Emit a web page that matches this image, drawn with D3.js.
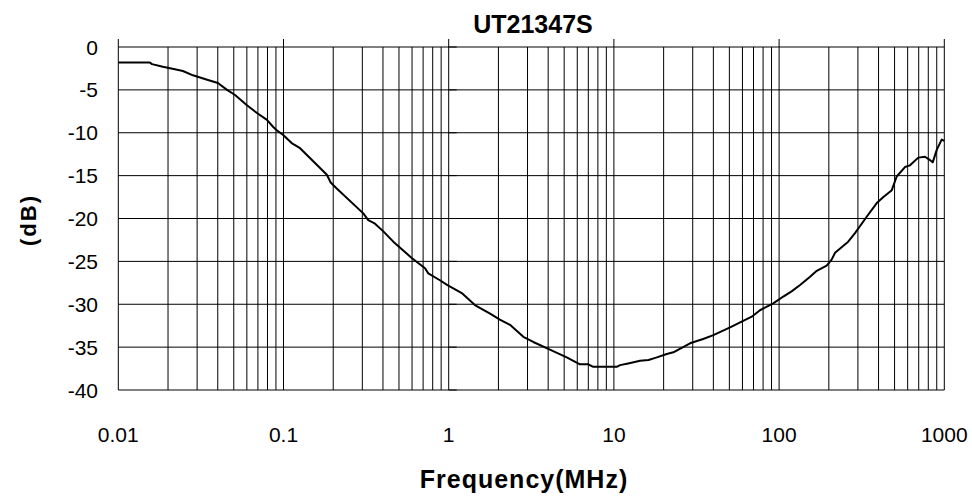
<!DOCTYPE html>
<html>
<head>
<meta charset="utf-8">
<script src="https://cdn.jsdelivr.net/npm/d3@7"></script>
<style>
  html, body { margin: 0; padding: 0; background: #fff; }
  svg { display: block; font-family: "Liberation Sans", Arial, sans-serif; }
</style>
</head>
<body>
<div id="chart"></div>
<script>
// insertion loss curve
const freqMHz = [0.01, 0.0155, 0.016, 0.0186, 0.022, 0.0246, 0.0283, 0.0349, 0.0401, 0.0455,
  0.0509, 0.0601, 0.0691, 0.0794, 0.0864, 0.091, 0.1, 0.112, 0.126, 0.183, 0.193, 0.21,
  0.304, 0.326, 0.358, 0.402, 0.462, 0.597, 0.719, 0.752, 0.885, 0.977, 1.2, 1.44, 1.78,
  2.04, 2.35, 2.83, 3.25, 4.1, 5.18, 6.23, 7.0, 7.5, 10.4, 10.9, 12.2, 14.4, 16.2, 18.2,
  20.9, 22.9, 28.9, 34.7, 40, 50.5, 68.3, 76.6, 92.2, 106, 119, 134, 154, 169, 194, 208,
  218, 262, 288, 339, 390, 428, 481, 515, 578, 620, 696, 764, 820, 851, 900, 964, 1000];
const attenDb = [-1.8, -1.8, -2.0, -2.3, -2.6, -2.8, -3.3, -3.85, -4.2, -5.0,
  -5.6, -6.8, -7.7, -8.5, -9.3, -9.7, -10.3, -11.2, -11.8, -14.9, -15.8, -16.5,
  -19.4, -20.2, -20.6, -21.5, -22.7, -24.6, -25.8, -26.4, -27.2, -27.75, -28.7, -30.1, -31.1,
  -31.8, -32.4, -33.8, -34.4, -35.3, -36.2, -37.0, -37.0, -37.3, -37.3, -37.1, -36.9, -36.6, -36.5, -36.2,
  -35.8, -35.6, -34.55, -34.05, -33.6, -32.7, -31.45, -30.7, -29.9, -29.1, -28.5, -27.75, -26.8, -26.1, -25.5, -24.8,
  -24.0, -22.7, -21.7, -19.8, -18.2, -17.5, -16.7, -15.1, -14.0, -13.8, -12.9, -12.8, -13.2, -13.45, -12.0, -10.8, -10.95];

const decades = [0.01, 0.1, 1, 10, 100, 1000];
const decadeLabels = ['0.01', '0.1', '1', '10', '100', '1000'];
const yTicks = [0, -5, -10, -15, -20, -25, -30, -35, -40];

const title = 'UT21347S';
const xTitle = 'Frequency(MHz)';
const yTitle = '(dB)';

const width = 972;
const height = 497;
const plotLeft = 118.3, plotRight = 944.3, plotTop = 47, plotBottom = 390;

const svg = d3.select('#chart')
  .append('svg')
  .attr('width', width)
  .attr('height', height);

const x = d3.scaleLog().domain([0.01, 1000]).range([plotLeft, plotRight]);
const y = d3.scaleLinear().domain([0, -40]).range([plotTop, plotBottom]);

// minor grid: 1..9 in every decade
const gridX = [];
decades.slice(0, -1).forEach(d => {
  for (let k = 1; k <= 9; k++) gridX.push(d * k);
});
gridX.push(1000);

const grid = svg.append('g').attr('stroke', '#000').attr('stroke-width', 1).attr('fill', 'none');

grid.selectAll('.vgrid')
  .data(gridX)
  .enter().append('line')
  .attr('class', 'vgrid')
  .attr('x1', d => x(d)).attr('x2', d => x(d))
  .attr('y1', plotTop).attr('y2', plotBottom);

grid.selectAll('.hgrid')
  .data(yTicks)
  .enter().append('line')
  .attr('class', 'hgrid')
  .attr('x1', plotLeft).attr('x2', plotRight)
  .attr('y1', d => y(d)).attr('y2', d => y(d));

// decade ticks poking out above the top edge
grid.selectAll('.dtick')
  .data(decades)
  .enter().append('line')
  .attr('class', 'dtick')
  .attr('x1', d => x(d)).attr('x2', d => x(d))
  .attr('y1', plotTop - 8).attr('y2', plotTop);

// y ticks sitting on the 1 MHz line
grid.selectAll('.ytick')
  .data(yTicks)
  .enter().append('line')
  .attr('class', 'ytick')
  .attr('x1', x(1)).attr('x2', x(1) + 8)
  .attr('y1', d => y(d)).attr('y2', d => y(d));

// curve
const line = d3.line()
  .x((d, i) => x(freqMHz[i]))
  .y(d => y(d));

svg.append('path')
  .datum(attenDb)
  .attr('fill', 'none')
  .attr('stroke', '#000')
  .attr('stroke-width', 2)
  .attr('stroke-linejoin', 'round')
  .attr('d', line);

// tick labels
svg.append('g').selectAll('text')
  .data(yTicks)
  .enter().append('text')
  .attr('x', 98)
  .attr('y', d => y(d))
  .attr('dy', '0.36em')
  .attr('text-anchor', 'end')
  .attr('font-size', 21)
  .attr('fill', '#000')
  .text(d => String(d));

svg.append('g').selectAll('text')
  .data(decades)
  .enter().append('text')
  .attr('x', d => x(d))
  .attr('y', 442)
  .attr('text-anchor', 'middle')
  .attr('font-size', 21)
  .attr('fill', '#000')
  .text((d, i) => decadeLabels[i]);

// titles
svg.append('text')
  .attr('x', 533).attr('y', 33)
  .attr('text-anchor', 'middle')
  .attr('font-size', 25)
  .attr('font-weight', 'bold')
  .text(title);

svg.append('text')
  .attr('x', 524).attr('y', 488)
  .attr('text-anchor', 'middle')
  .attr('font-size', 25)
  .attr('font-weight', 'bold')
  .attr('letter-spacing', 1)
  .text(xTitle);

svg.append('text')
  .attr('transform', 'translate(36,220) rotate(-90)')
  .attr('text-anchor', 'middle')
  .attr('font-size', 22)
  .attr('font-weight', 'bold')
  .attr('letter-spacing', 2)
  .text(yTitle);
</script>
</body>
</html>
